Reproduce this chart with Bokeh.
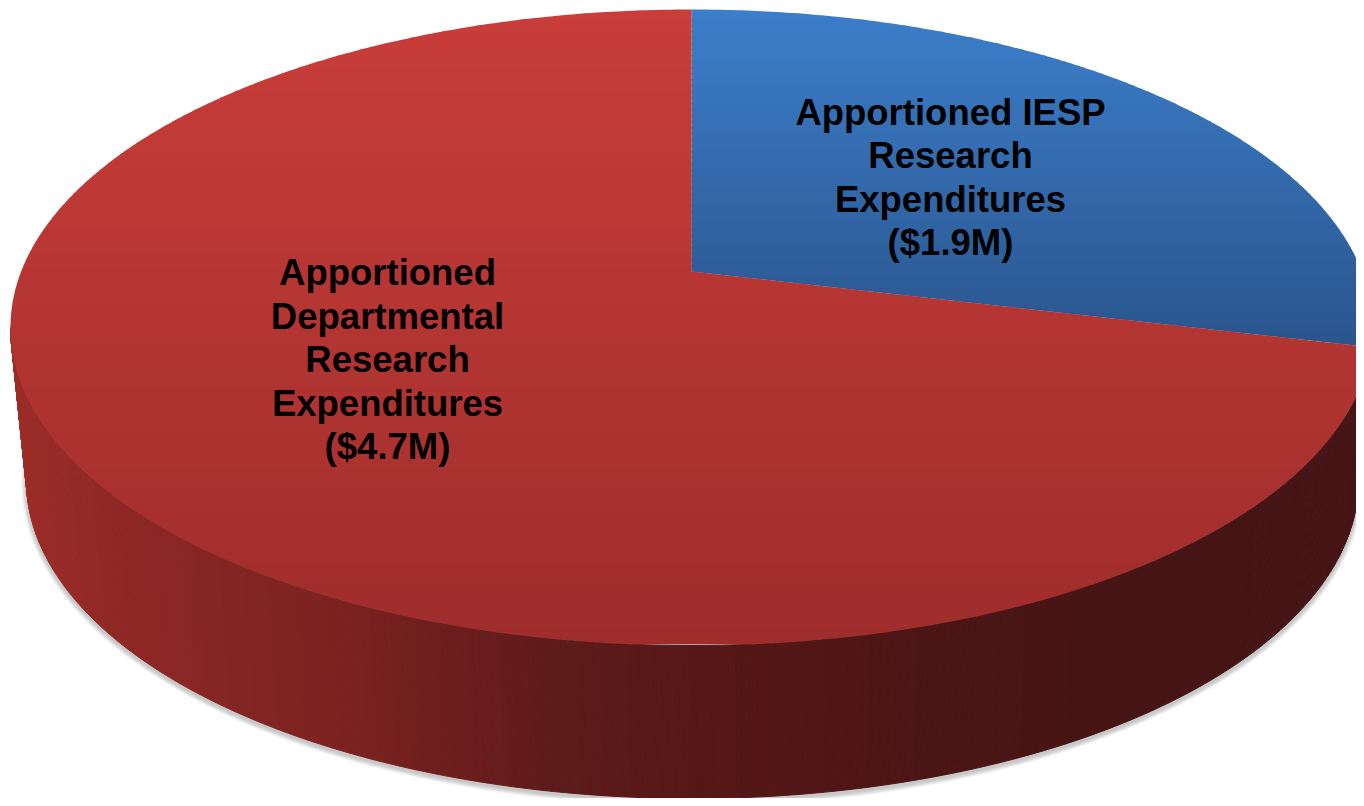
import numpy as np
from bokeh.plotting import figure
from bokeh.models import Range1d
from bokeh.embed import file_html
from bokeh.resources import INLINE
from bokeh.core.properties import value

# ---------------- data ----------------
categories = ["Apportioned IESP Research Expenditures",
              "Apportioned Departmental Research Expenditures"]
values_musd = [1.9, 4.7]
label_lines = [["Apportioned IESP", "Research", "Expenditures"],
               ["Apportioned", "Departmental", "Research", "Expenditures"]]

# ---------------- style ----------------
top_color_back = [(60, 126, 203), (201, 61, 58)]     # colour at back of top face
top_color_front = [(25, 48, 84), (158, 45, 43)]      # colour at front of top face
side_stops_x = [10, 100, 200, 350, 450, 550, 700, 900, 1150, 1360]
side_stops_red = [(157, 45, 41), (144, 41, 37), (134, 38, 35), (122, 34, 32), (108, 30, 29),
                  (94, 27, 26), (86, 24, 23), (77, 21, 21), (69, 20, 20), (70, 22, 22)]
side_scale_blue = (0.45, 0.7, 1.0)
label_centres = [(950, 178), (387, 360)]
LINE_STEP = 43.5
FONT_PX = 36.5
TEXT_SHIFT = -1.0

# ---------------- projection (layout) ----------------
CX, CY = 691.0, 271.0          # pie centre on top face (screen px)
Y_BACK, Y_FRONT, X_LEFT = 9.0, 645.0, 10.0
d = (2 * CY - Y_BACK - Y_FRONT) / (Y_BACK - Y_FRONT)
f = Y_BACK + Y_BACK * d - CY
A = (CX - X_LEFT) * np.sqrt(1 - d * d)
BCX, BSCALE, DEPTH = 692.0, 666.0 / 681.0, 153.0


def top_pt(theta_deg, r=1.0):
    t = np.radians(theta_deg)
    X, Y = r * np.sin(t), r * np.cos(t)
    w = 1 + d * Y
    return CX + A * X / w, (CY + f * Y) / w


def bot_pt(theta_deg):
    x, y = top_pt(theta_deg)
    return BCX + (x - CX) * BSCALE, y + DEPTH


def lerp(c0, c1, t):
    return tuple(c0[i] + (c1[i] - c0[i]) * t for i in range(3))


def hexc(c):
    return "#%02x%02x%02x" % tuple(int(round(max(0, min(255, v)))) for v in c)


def side_color(x, k):
    cols = side_stops_red
    r = np.interp(x, side_stops_x, [c[0] for c in cols])
    g = np.interp(x, side_stops_x, [c[1] for c in cols])
    b = np.interp(x, side_stops_x, [c[2] for c in cols])
    if k == 0:  # blue slice side
        return hexc((r * side_scale_blue[0], g * side_scale_blue[1] * 1.6, b * side_scale_blue[2] * 2.4))
    return hexc((r, g, b))


def clip_y(pts, yc, keep_greater):
    out = []
    n = len(pts)
    for i in range(n):
        cur, prev = pts[i], pts[i - 1]
        cin = cur[1] >= yc if keep_greater else cur[1] <= yc
        pin = prev[1] >= yc if keep_greater else prev[1] <= yc
        if cin != pin:
            t = (yc - prev[1]) / (cur[1] - prev[1])
            out.append((prev[0] + (cur[0] - prev[0]) * t, yc))
        if cin:
            out.append(cur)
    return out


# ---------------- figure ----------------
W, H = 1356, 798
p = figure(width=W, height=H, x_range=Range1d(0, W), y_range=Range1d(H, 0),
           output_backend="svg", toolbar_location=None, min_border=0,
           x_axis_location=None, y_axis_location=None)
p.grid.visible = False
p.outline_line_color = None
p.background_fill_color = "white"
p.border_fill_color = "white"

total = float(sum(values_musd))
angles = np.concatenate([[0.0], np.cumsum(values_musd) / total * 360.0])

# shadow under the pie
full = np.linspace(0, 360, 361)
bx = np.array([bot_pt(a)[0] for a in full])
by = np.array([bot_pt(a)[1] for a in full])
bcx, bcy = bx.mean(), (by.max() + by.min()) / 2
for k in [5, 4, 3, 2, 1]:
    sx = bcx + (bx - bcx) * (1 + k / 660.0)
    sy = bcy + (by - bcy) * (1 + k / 318.0) + 2.5
    p.patch(list(sx), list(sy), fill_color="#707070", fill_alpha=0.09, line_color=None)

# visible side (front) angles
theta_sil = np.degrees(np.arccos(-d))
side_xs, side_ys, side_cols = [], [], []
for k in range(len(values_musd)):
    a0 = max(angles[k], theta_sil)
    a1 = min(angles[k + 1], 360 - theta_sil)
    if a1 <= a0:
        continue
    n = max(2, int((a1 - a0) / 0.4))
    ts = np.linspace(a0, a1, n + 1)
    for i in range(n):
        t0, t1 = ts[i], ts[i + 1]
        p0, p1 = top_pt(t0), top_pt(t1)
        q0, q1 = bot_pt(t0), bot_pt(t1)
        side_xs.append([p0[0], p1[0], q1[0], q0[0]])
        side_ys.append([p0[1], p1[1], q1[1], q0[1]])
        side_cols.append(side_color((p0[0] + p1[0]) / 2, k))
p.patches(side_xs, side_ys, fill_color=side_cols, line_color=side_cols, line_width=1.0)

# top faces with vertical gradient
band_xs, band_ys, band_cols = [], [], []
for k in range(len(values_musd)):
    ts = np.linspace(angles[k], angles[k + 1], max(3, int(angles[k + 1] - angles[k]) * 2))
    poly = [(CX, CY)] + [top_pt(t) for t in ts]
    edges = np.arange(Y_BACK - 2, Y_FRONT + 4, 6.0)
    for j in range(len(edges) - 1):
        y0, y1 = edges[j], edges[j + 1] + 0.7
        piece = clip_y(clip_y(poly, y0, True), y1, False)
        if len(piece) < 3:
            continue
        tm = ((edges[j] + 3.0) - Y_BACK) / (Y_FRONT - Y_BACK)
        col = hexc(lerp(top_color_back[k], top_color_front[k], min(max(tm, 0), 1)))
        band_xs.append([q[0] for q in piece])
        band_ys.append([q[1] for q in piece])
        band_cols.append(col)
p.patches(band_xs, band_ys, fill_color=band_cols, line_color=None)

# labels
tx, ty, tt = [], [], []
for k in range(len(values_musd)):
    lines = label_lines[k] + ["($%sM)" % values_musd[k]]
    cx, cy = label_centres[k]
    n = len(lines)
    for i, s in enumerate(lines):
        tx.append(cx)
        ty.append(cy + (i - (n - 1) / 2) * LINE_STEP + TEXT_SHIFT)
        tt.append(s)
p.text(tx, ty, text=tt, text_font=value("Liberation Sans"), text_font_style="bold",
       text_font_size="%gpx" % FONT_PX, text_align="center", text_baseline="alphabetic",
       text_color="black")

open("out.html", "w").write(file_html(p, INLINE))
